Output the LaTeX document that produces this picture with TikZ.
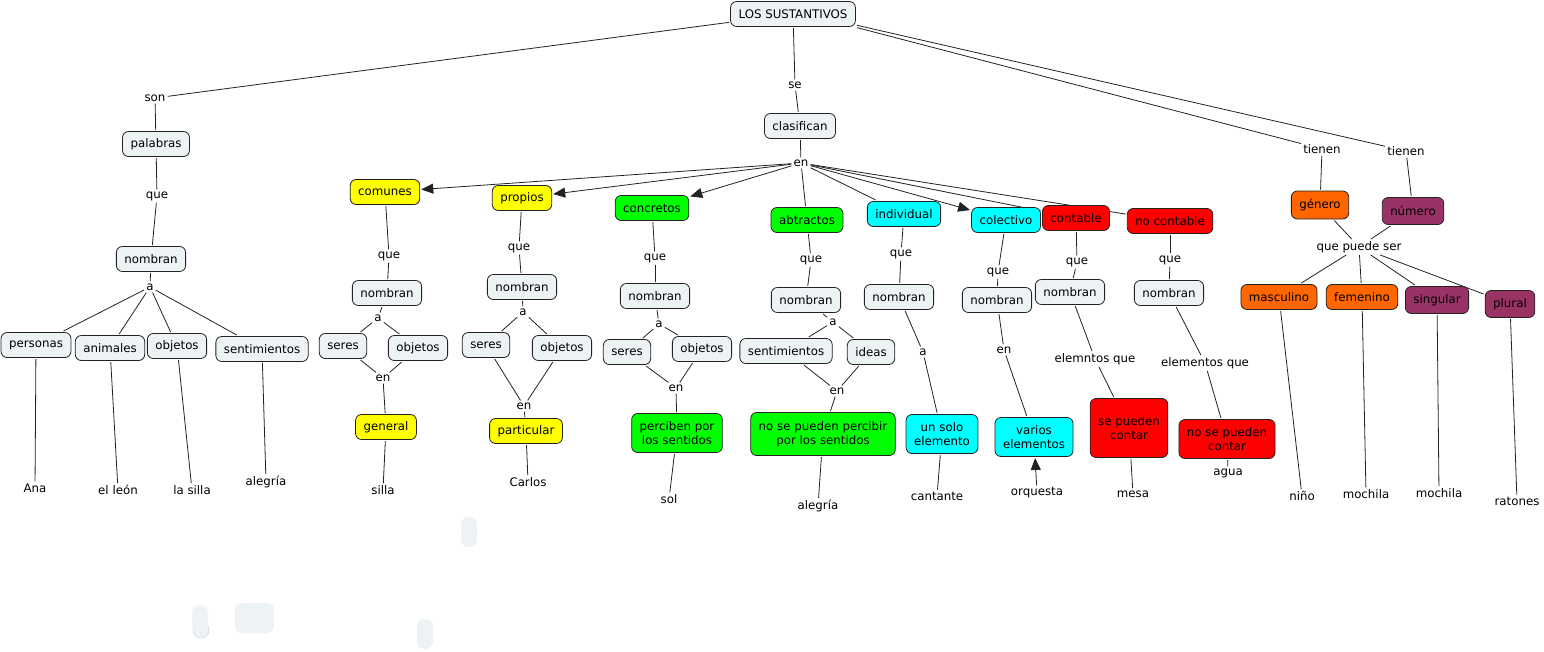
\documentclass[tikz,border=0pt]{standalone}
\usepackage{fontspec}
\setmainfont{DejaVu Sans}
\usetikzlibrary{arrows.meta,backgrounds}

\definecolor{cmapgray}{HTML}{EDF3F5}
\definecolor{cmapyellow}{HTML}{FFFF00}
\definecolor{cmapgreen}{HTML}{00FF00}
\definecolor{cmapcyan}{HTML}{00FFFF}
\definecolor{cmapred}{HTML}{FF0000}
\definecolor{cmaporange}{HTML}{FF6600}
\definecolor{cmappurple}{HTML}{993366}
\definecolor{cmapline}{HTML}{222222}

\tikzset{
  concept/.style={draw=cmapline, line width=0.8pt, rounded corners=6pt, fill=cmapgray,
    inner xsep=8pt, inner ysep=3pt, minimum height=25pt, align=center, outer sep=1.5pt},
  twoline/.style={minimum height=39pt},
  link/.style={inner sep=2pt, align=center},
  ghost/.style={fill=cmapgray, draw=none}
}

\begin{document}
\begin{tikzpicture}[x=1pt, y=-1pt, font=\fontsize{11.8}{14.5}\selectfont,
    >={Triangle[length=12pt,width=10pt]}]

      \useasboundingbox (0,0) rectangle (1544,651);

      % gray concepts
      \begin{scope}[every node/.style={concept}]
        \node (los)       at (793,14)  {LOS SUSTANTIVOS};
        \node (palabras)  at (156,144) {palabras};
        \node (pnombran)  at (151,259) {nombran};
        \node (personas)  at (36,345)  {personas};
        \node (animales)  at (110,348) {animales};
        \node (pobjetos)  at (177,346) {objetos};
        \node (psent)     at (262,349) {sentimientos};
        \node (clasifican) at (800,126) {clasifican};
        \node (cnombran)  at (387,293) {nombran};
        \node (cseres)    at (343,346) {seres};
        \node (cobjetos)  at (418,348) {objetos};
        \node (rnombran)  at (522,287) {nombran};
        \node (rseres)    at (486,345) {seres};
        \node (robjetos)  at (562,348) {objetos};
        \node (knombran)  at (655,296) {nombran};
        \node (kseres)    at (627,352) {seres};
        \node (kobjetos)  at (702,349) {objetos};
        \node (bnombran)  at (806,300) {nombran};
        \node (bsent)     at (786,351) {sentimientos};
        \node (ideas)     at (871,352) {ideas};
        \node (inombran)  at (899,297) {nombran};
        \node (onombran)  at (997,300) {nombran};
        \node (tnombran)  at (1070,292) {nombran};
        \node (nnombran)  at (1169,293) {nombran};
      \end{scope}

      % yellow concepts
      \begin{scope}[every node/.style={concept, fill=cmapyellow}]
        \node (comunes)    at (385,192) {comunes};
        \node (general)    at (386,427) {general};
        \node (propios)    at (522,198) {propios};
        \node (particular) at (526,431) {particular};
      \end{scope}

      % green concepts
      \begin{scope}[every node/.style={concept, fill=cmapgreen}]
        \node (concretos)  at (652,208) {concretos};
        \node[twoline] (perciben)   at (677,433) {perciben por\\los sentidos};
        \node (abtractos)  at (807,220) {abtractos};
        \node[twoline, minimum height=43pt] (nopercibir) at (823,434) {no se pueden percibir\\por los sentidos};
      \end{scope}

      % cyan concepts
      \begin{scope}[every node/.style={concept, fill=cmapcyan}]
        \node (individual) at (904,214)  {individual};
        \node[twoline] (unsolo)     at (942,434)  {un solo\\elemento};
        \node (colectivo)  at (1006,220) {colectivo};
        \node[twoline] (varios)     at (1034,437) {varios\\elementos};
      \end{scope}

      % red concepts
      \begin{scope}[every node/.style={concept, fill=cmapred}]
        \node (contable)   at (1076,218) {contable};
        \node[minimum height=59pt] (sepueden) at (1129,428) {se pueden\\contar};
        \node (nocontable) at (1170,221) {no contable};
        \node[twoline] (nosepueden) at (1227,439) {no se pueden\\contar};
      \end{scope}

      % orange and purple concepts
      \begin{scope}[every node/.style={concept, fill=cmaporange}]
        \node[minimum height=28pt] (genero) at (1320,205) {género};
        \node (masculino) at (1279,297) {masculino};
        \node (femenino)  at (1362,297) {femenino};
      \end{scope}
      \begin{scope}[every node/.style={concept, fill=cmappurple, minimum height=27pt}]
        \node (numero)   at (1413,211) {número};
        \node (singular) at (1437,300) {singular};
        \node (plural)   at (1510,304) {plural};
      \end{scope}

      % linking phrases and examples
      \begin{scope}[every node/.style={link}]
        \node (son)      at (155,98)  {son};
        \node (pque)     at (157,196) {que};
        \node (pa)       at (150,287) {a};
        \node (ana)      at (35,488)  {Ana};
        \node (leon)     at (118,490) {el león};
        \node (lasilla)  at (192,490) {la silla};
        \node (palegria) at (266,482) {alegría};
        \node (se)       at (795,85)  {se};
        \node (en)       at (801,163) {en};
        \node (cque)     at (389,256) {que};
        \node (ca)       at (378,318) {a};
        \node (cen)      at (383,378) {en};
        \node (silla)    at (383,490) {silla};
        \node (rque)     at (519,248) {que};
        \node (ra)       at (523,312) {a};
        \node (ren)      at (524,406) {en};
        \node (carlos)   at (528,482) {Carlos};
        \node (kque)     at (655,258) {que};
        \node (ka)       at (659,324) {a};
        \node (ken)      at (676,388) {en};
        \node (sol)      at (669,499) {sol};
        \node (bque)     at (811,260) {que};
        \node (ba)       at (833,322) {a};
        \node (ben)      at (837,391) {en};
        \node (balegria) at (818,506) {alegría};
        \node (ique)     at (901,254) {que};
        \node (ia)       at (923,352) {a};
        \node (cantante) at (937,496) {cantante};
        \node (oque)     at (998,272) {que};
        \node (oen)      at (1004,350) {en};
        \node (orquesta) at (1037,493) {orquesta};
        \node (tque)     at (1077,262) {que};
        \node (tque2)    at (1095,359) {elemntos que};
        \node (mesa)     at (1133,494) {mesa};
        \node (nque)     at (1170,260) {que};
        \node (nque2)    at (1205,363) {elementos que};
        \node (agua)     at (1228,473) {agua};
        \node (tienen1)  at (1322,149) {tienen};
        \node (tienen2)  at (1406,151) {tienen};
        \node (puede)    at (1359,247) {que puede ser};
        \node (nino)     at (1302,496) {niño};
        \node (mochila1) at (1366,494) {mochila};
        \node (mochila2) at (1439,493) {mochila};
        \node (ratones)  at (1517,501) {ratones};
      \end{scope}

      % connectors
      \begin{scope}[on background layer, every edge/.style={draw=cmapline, line width=0.8pt}]
        \path (los) edge (son);
        \path (son) edge (palabras);
        \path (palabras) edge (pque);
        \path (pque) edge (pnombran);
        \path (pnombran) edge (pa);
        \path (pa) edge (personas);
        \path (pa) edge (animales);
        \path (pa) edge (pobjetos);
        \path (pa) edge (psent);
        \path (personas) edge (ana);
        \path (animales) edge (leon);
        \path (pobjetos) edge (lasilla);
        \path (psent) edge (palegria);

        \path (los) edge (se);
        \path (se) edge (clasifican);
        \path (clasifican) edge (en);
        \path (en) edge[->] (comunes);
        \path (en) edge[->] (propios);
        \path (en) edge[->] (concretos);
        \path (en) edge (abtractos);
        \path (en) edge (individual);
        \path (en) edge[->] (colectivo);
        \path (en) edge (contable);
        \path (en) edge (nocontable);

        \path (comunes) edge (cque);
        \path (cque) edge (cnombran);
        \path (cnombran) edge (ca);
        \path (ca) edge (cseres);
        \path (ca) edge (cobjetos);
        \path (cseres) edge (cen);
        \path (cobjetos) edge (cen);
        \path (cen) edge (general);
        \path (general) edge (silla);

        \path (propios) edge (rque);
        \path (rque) edge (rnombran);
        \path (rnombran) edge (ra);
        \path (ra) edge (rseres);
        \path (ra) edge (robjetos);
        \path (rseres) edge (ren);
        \path (robjetos) edge (ren);
        \path (ren) edge (particular);
        \path (particular) edge (carlos);

        \path (concretos) edge (kque);
        \path (kque) edge (knombran);
        \path (knombran) edge (ka);
        \path (ka) edge (kseres);
        \path (ka) edge (kobjetos);
        \path (kseres) edge (ken);
        \path (kobjetos) edge (ken);
        \path (ken) edge (perciben);
        \path (perciben) edge (sol);

        \path (abtractos) edge (bque);
        \path (bque) edge (bnombran);
        \path (bnombran) edge (ba);
        \path (ba) edge (bsent);
        \path (ba) edge (ideas);
        \path (bsent) edge (ben);
        \path (ideas) edge (ben);
        \path (ben) edge (nopercibir);
        \path (nopercibir) edge (balegria);

        \path (individual) edge (ique);
        \path (ique) edge (inombran);
        \path (inombran) edge (ia);
        \path (ia) edge (unsolo);
        \path (unsolo) edge (cantante);

        \path (colectivo) edge (oque);
        \path (oque) edge (onombran);
        \path (onombran) edge (oen);
        \path (oen) edge (varios);
        \path (orquesta) edge[->] (varios);

        \path (contable) edge (tque);
        \path (tque) edge (tnombran);
        \path (tnombran) edge (tque2);
        \path (tque2) edge (sepueden);
        \path (sepueden) edge (mesa);

        \path (nocontable) edge (nque);
        \path (nque) edge (nnombran);
        \path (nnombran) edge (nque2);
        \path (nque2) edge (nosepueden);
        \path (nosepueden) edge (agua);

        \path (los.-12) edge (tienen1);
        \path (los.-10) edge (tienen2);
        \path (tienen1) edge (genero);
        \path (tienen2) edge (numero);
        \path (genero) edge (puede);
        \path (numero) edge (puede);
        \path (puede) edge (masculino);
        \path (puede) edge (femenino);
        \path (puede) edge (singular);
        \path (puede) edge (plural);
        \path (masculino) edge (nino);
        \path (femenino) edge (mochila1);
        \path (singular) edge (mochila2);
        \path (plural) edge (ratones);
      \end{scope}

      % empty leftover boxes
      \fill[ghost, rounded corners=7.5pt] (461,517) rectangle (477,547);
      \fill[ghost, rounded corners=7.5pt] (417,619) rectangle (433,649);
      \fill[ghost, rounded corners=7pt] (235,603) rectangle (274,633);
      \draw[ghost, draw=cmapgray!85!black] (201,630) circle (8pt);
      \fill[ghost, rounded corners=7.5pt] (192,605) rectangle (208,633);

    \end{tikzpicture}
\end{document}
